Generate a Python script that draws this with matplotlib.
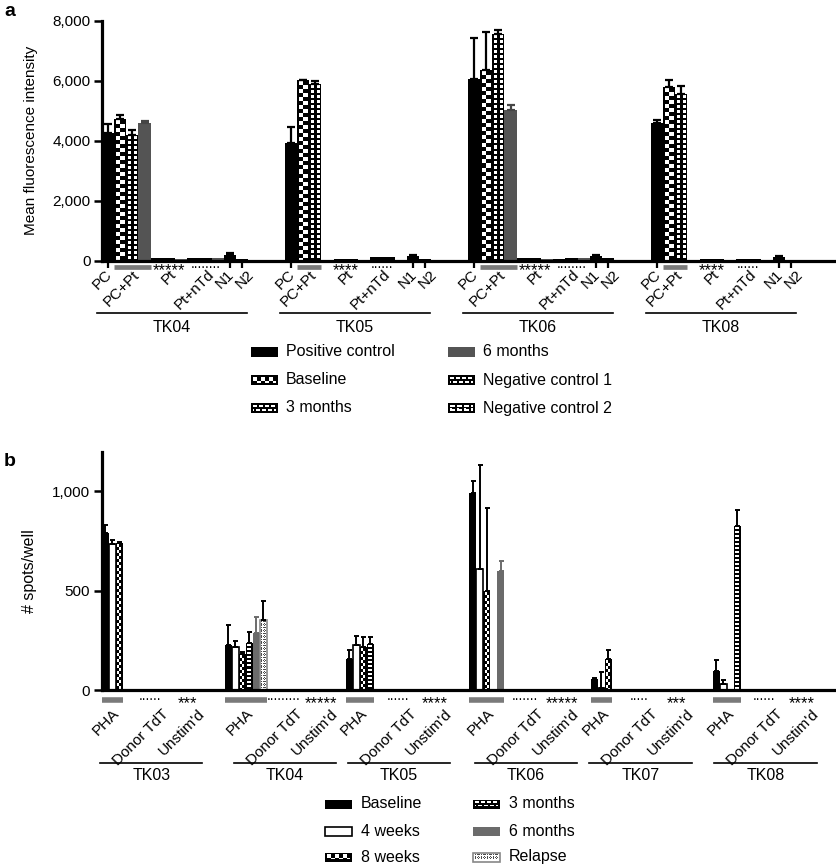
import numpy as np
import matplotlib
matplotlib.use("Agg")
import matplotlib.pyplot as plt
from matplotlib.transforms import blended_transform_factory
from matplotlib.patches import Rectangle

plt.rcParams['font.family'] = ['Liberation Sans', 'DejaVu Sans']
nan = np.nan

# ---------------- Panel a data ----------------
a_groups = ['TK04', 'TK05', 'TK06', 'TK08']
a_categories = ['PC', 'PC+Pt', 'Pt', 'Pt+nTd', 'N1', 'N2']
a_pc = [4256, 3921, 6071, 4601]
a_pc_err = [311, 535, 1359, 100]
a_pcpt_baseline = [4723, 6016, 6350, 5793]
a_pcpt_baseline_err = [123, 22, 1259, 223]
a_pcpt_3mo = [4200, 5904, 7542, 5570]
a_pcpt_3mo_err = [145, 89, 145, 245]
a_pcpt_6mo = [4590, nan, 5013, nan]
a_pcpt_6mo_err = [67, nan, 189, nan]
a_pt_baseline = [70, 60, 70, 40]
a_pt_3mo = [70, 60, 80, 40]
a_pt_6mo = [40, nan, 40, nan]
a_ptntd_baseline = [80, 110, 60, 50]
a_ptntd_3mo = [90, 110, 80, 50]
a_ptntd_6mo = [70, nan, 100, nan]
a_n1 = [180, 150, 140, 130]
a_n1_err = [70, 20, 30, 20]
a_n2 = [50, 60, 70, 20]
a_stars = ['*****', '****', '*****', '****']
a_dots = ['........', '......', '........', '......']
a_yticks = [0, 2000, 4000, 6000, 8000]
a_yticklabels = ['0', '2,000', '4,000', '6,000', '8,000']
a_legend = ['Positive control', 'Baseline', '3 months',
            '6 months', 'Negative control 1', 'Negative control 2']

# ---------------- Panel b data ----------------
b_groups = ['TK03', 'TK04', 'TK05', 'TK06', 'TK07', 'TK08']
b_categories = ['PHA', 'Donor TdT', "Unstim'd"]
b_series = ['Baseline', '4 weeks', '8 weeks', '3 months', '6 months', 'Relapse']
b_baseline = [790, 227, 155, 992, 54, 97]
b_baseline_err = [40, 101, 47, 62, 5, 54]
b_4wk = [735, 215, 227, 608, 12, 29]
b_4wk_err = [18, 32, 47, 526, 80, 21]
b_8wk = [740, 182, 218, 499, 155, nan]
b_8wk_err = [5, 11, 51, 417, 47, nan]
b_3mo = [nan, 235, 232, nan, nan, 827]
b_3mo_err = [nan, 56, 37, nan, nan, 81]
b_6mo = [nan, 286, nan, 597, nan, nan]
b_6mo_err = [nan, 84, nan, 53, nan, nan]
b_relapse = [nan, 350, nan, nan, nan, nan]
b_relapse_err = [nan, 100, nan, nan, nan, nan]
b_dots = ['......', '.........', '......', '.......', '.....', '......']
b_stars = ['***', '*****', '****', '*****', '***', '****']
b_yticks = [0, 500, 1000]
b_yticklabels = ['0', '500', '1,000']

# ---------------- layout ----------------
W, H = 837, 866
fig = plt.figure(figsize=(W / 100, H / 100), dpi=100)


def rect(l, t, r, b):
    return [l / W, 1 - b / H, (r - l) / W, (b - t) / H]


ax_a = fig.add_axes(rect(102.5, 20.7, 835, 260.5))
ax_b = fig.add_axes(rect(101.7, 451.7, 835, 690))
ov = fig.add_axes([0, 0, 1, 1], zorder=5)
ov.set_xlim(0, W)
ov.set_ylim(H, 0)
ov.axis('off')

A_XLIM = (-0.45, 59.6)
B_XLIM = (0, 104.76)
ax_a.set_xlim(*A_XLIM)
ax_a.set_ylim(0, 8000)
ax_b.set_xlim(*B_XLIM)
ax_b.set_ylim(0, 1200)

for ax in (ax_a, ax_b):
    for s in ('top', 'right'):
        ax.spines[s].set_visible(False)
    for s in ('left', 'bottom'):
        ax.spines[s].set_linewidth(2.3)
        ax.spines[s].set_zorder(4)
    ax.tick_params(axis='y', length=5.5, width=1.8, labelsize=11, pad=3)


def make_pattern(kind, nx, ny):
    i, j = np.mgrid[0:ny, 0:nx]
    if kind == 'checker':
        white = ((i // 4 + j // 4) % 2 == 0)
    elif kind == 'ladder':
        c = (nx - 1) / 2
        white = (i % 5 < 3) & (np.abs(j - c) > 0.6)
    elif kind == 'checker_s':
        white = ((i // 3 + j // 2) % 2 == 0)
    elif kind == 'dash_s':
        white = (i % 4 < 2)
    elif kind == 'brick':
        white = (i % 4 < 2) & (((j + 3 * ((i // 4) % 2)) % 6) < 4)
    elif kind == 'brick2':
        white = ((i % 4 < 2) & ((j % 7) < 5)) | ((i % 4 == 3) & ((j % 7) < 2))
    elif kind == 'relapse':
        img = np.ones((ny, nx))
        grid = ((i % 3 == 0) & (j % 2 == 0)) | ((j % 3 == 0) & (i % 2 == 0))
        img[grid] = 0.3
        return img
    else:
        white = np.zeros((ny, nx), bool)
    return np.where(white, 1.0, 0.0)


def fill_pattern(ax, x0, x1, y0, y1, kind, ins=(2, 2, 2, 0)):
    p0 = ax.transData.transform((x0, y0))
    p1 = ax.transData.transform((x1, y1))
    left, right = p0[0] + ins[0], p1[0] - ins[1]
    bottom, top = p0[1] + ins[3], p1[1] - ins[2]
    nx, ny = int(round(right - left)), int(round(top - bottom))
    if nx < 2 or ny < 3:
        return
    img = make_pattern(kind, nx, ny)
    inv = ax.transData.inverted()
    d0 = inv.transform((left, bottom))
    d1 = inv.transform((right, top))
    ax.imshow(img, cmap='gray', vmin=0, vmax=1, extent=(d0[0], d1[0], d0[1], d1[1]),
              origin='upper', interpolation='nearest', aspect='auto', zorder=2.2)


def legend_patch(x, yc, kind, fc, ec=None, w=27, h=10, ins=2):
    t, b = yc - h / 2, yc + h / 2
    ov.add_patch(Rectangle((x, t), w, h, facecolor=fc,
                           edgecolor=ec if ec else fc, linewidth=1.2 if ec else 0))
    if kind:
        nx, ny = int(w - 2 * ins), int(h - 2 * ins)
        ov.imshow(make_pattern(kind, nx, ny), cmap='gray', vmin=0, vmax=1,
                  extent=(x + ins, x + w - ins, b - ins, t + ins), origin='upper',
                  interpolation='nearest', aspect='auto', zorder=3)


def style_labels(ax):
    for lab in ax.get_xticklabels():
        lab.set_rotation(45)
        lab.set_ha('right')
        lab.set_va('center')
        lab.set_rotation_mode('anchor')


# ================= Panel a =================
A_STEP = 15
A_LABEL_OFF = [0.18, 0.42, 0.45, 0.49, 0.15, 0.75]
a_style = {
    'Positive control': dict(fc='black', pat=None, pat_leg=None),
    'Baseline': dict(fc='black', pat='checker', pat_leg='checker'),
    '3 months': dict(fc='black', pat='ladder', pat_leg='brick'),
    '6 months': dict(fc='#545454', pat=None, pat_leg=None),
    'Negative control 1': dict(fc='black', pat='ladder', pat_leg='brick'),
    'Negative control 2': dict(fc='black', pat=None, pat_leg='brick2'),
}
a_regions = [
    ('PC', [('Positive control', a_pc, a_pc_err)]),
    ('PC+Pt', [('Baseline', a_pcpt_baseline, a_pcpt_baseline_err),
               ('3 months', a_pcpt_3mo, a_pcpt_3mo_err),
               ('6 months', a_pcpt_6mo, a_pcpt_6mo_err)]),
    ('Pt', [('Baseline', a_pt_baseline, None), ('3 months', a_pt_3mo, None),
            ('6 months', a_pt_6mo, None)]),
    ('Pt+nTd', [('Baseline', a_ptntd_baseline, None), ('3 months', a_ptntd_3mo, None),
                ('6 months', a_ptntd_6mo, None)]),
    ('N1', [('Negative control 1', a_n1, a_n1_err)]),
    ('N2', [('Negative control 2', a_n2, None)]),
]

trans_a = blended_transform_factory(ax_a.transData, ov.transData)
a_major, a_major_lab, a_minor = [], [], []
for g, grp in enumerate(a_groups):
    base = g * A_STEP
    slot = 0
    for r, (reg, series) in enumerate(a_regions):
        present = []
        for name, vals, errs in series:
            x = base + slot
            v = vals[g]
            slot += 1
            if np.isnan(v):
                continue
            present.append(x)
            st = a_style[name]
            ax_a.bar(x, v, width=1.0, color=st['fc'], linewidth=0, zorder=2)
            if st['pat'] and v > 400:
                fill_pattern(ax_a, x - 0.5, x + 0.5, 0, v, st['pat'])
            if errs is not None and not np.isnan(errs[g]):
                ax_a.errorbar(x, v, yerr=[[0], [errs[g]]], fmt='none',
                              ecolor='#454545' if name == '6 months' else 'black',
                              elinewidth=1.6, capsize=2.6, capthick=1.6, zorder=3)
        cx = float(np.mean(present))
        a_major.append(cx + A_LABEL_OFF[r])
        a_major_lab.append(a_categories[r])
        if reg in ('PC', 'N1', 'N2'):
            a_minor.append(cx)
        elif reg == 'PC+Pt':
            ov.plot([min(present) - 0.5, max(present) + 0.5], [266.5, 266.5],
                    transform=trans_a, color='#7a7a7a', lw=3.4, solid_capstyle='butt')
        elif reg == 'Pt':
            ov.text(cx, 275.5, a_stars[g], transform=trans_a, ha='center',
                    va='baseline', fontsize=12)
        elif reg == 'Pt+nTd':
            ov.text(cx, 267.5, a_dots[g], transform=trans_a, ha='center',
                    va='baseline', fontsize=10)
    ov.plot([base - 0.9, base + 11.4], [313, 313], transform=trans_a,
            color='black', lw=1.2)
    ov.text(base + 5.25, 327, grp, transform=trans_a, ha='center', va='center',
            fontsize=11.5)

ax_a.set_xticks(a_major)
ax_a.set_xticklabels(a_major_lab)
ax_a.set_xticks(a_minor, minor=True)
ax_a.tick_params(axis='x', which='major', length=0, pad=8.6, labelsize=11)
ax_a.tick_params(axis='x', which='minor', length=5, width=1.6)
style_labels(ax_a)
ax_a.set_yticks(a_yticks)
ax_a.set_yticklabels(a_yticklabels)
ax_a.set_ylabel('Mean fluorescence intensity', fontsize=11)
ax_a.yaxis.set_label_coords(-0.088, 0.5)

# legend a
leg_cols = [250.7, 448]
leg_rows = [352, 380, 408]
for k, name in enumerate(a_legend):
    x = leg_cols[k // 3]
    y = leg_rows[k % 3]
    st = a_style[name]
    legend_patch(x, y, st['pat_leg'], st['fc'])
    ov.text(x + 35, y, name, ha='left', va='center', fontsize=11.5)

# ================= Panel b =================
B_CENTER = [1.5, 20.61, 36.9, 55.04, 71.4, 89.26]
B_CAT_OFF = [0.75, 7.75, 12.85]
B_DOT_OFF, B_STAR_OFF = 5.4, 10.7
B_LINE_C, B_LINE_HALF = 5.57, 7.29
b_vals = [b_baseline, b_4wk, b_8wk, b_3mo, b_6mo, b_relapse]
b_errs = [b_baseline_err, b_4wk_err, b_8wk_err, b_3mo_err, b_6mo_err, b_relapse_err]
b_style = {
    'Baseline': dict(fc='black', ec=None, pat=None, pat_leg=None),
    '4 weeks': dict(fc='white', ec='black', pat=None, pat_leg=None),
    '8 weeks': dict(fc='black', ec=None, pat='checker_s', pat_leg='checker'),
    '3 months': dict(fc='black', ec=None, pat='dash_s', pat_leg='brick'),
    '6 months': dict(fc='#6b6b6b', ec=None, pat=None, pat_leg=None),
    'Relapse': dict(fc='white', ec='#888888', pat='relapse', pat_leg='relapse'),
}
trans_b = blended_transform_factory(ax_b.transData, ov.transData)
b_major, b_major_lab = [], []
for g, grp in enumerate(b_groups):
    c = B_CENTER[g]
    pres = [s for s in range(len(b_series)) if not np.isnan(b_vals[s][g])]
    first, last = min(pres), max(pres)
    n = last - first + 1
    for s in pres:
        name = b_series[s]
        st = b_style[name]
        x = c - n / 2 + 0.5 + (s - first)
        v = b_vals[s][g]
        if st['ec']:
            ax_b.bar(x, v, width=1.0, color=st['fc'], edgecolor=st['ec'],
                     linewidth=1.2, zorder=2)
        else:
            ax_b.bar(x, v, width=1.0, color=st['fc'], linewidth=0, zorder=2)
        if st['pat'] == 'relapse':
            fill_pattern(ax_b, x - 0.5, x + 0.5, 0, v, 'relapse', ins=(1, 1, 1, 0))
        elif st['pat'] and v > 60:
            fill_pattern(ax_b, x - 0.5, x + 0.5, 0, v, st['pat'], ins=(1.5, 1.5, 1.5, 0))
        e = b_errs[s][g]
        if not np.isnan(e):
            ax_b.errorbar(x, v, yerr=[[0], [e]], fmt='none',
                          ecolor='#6b6b6b' if name == '6 months' else 'black',
                          elinewidth=1.4, capsize=1.8, capthick=1.4, zorder=3)
    for k, cat in enumerate(b_categories):
        b_major.append(c + B_CAT_OFF[k])
        b_major_lab.append(cat)
    ov.plot([c - n / 2, c + n / 2], [699.5, 699.5], transform=trans_b,
            color='#7a7a7a', lw=4, solid_capstyle='butt')
    ov.text(c + B_DOT_OFF, 699.5, b_dots[g], transform=trans_b, ha='center',
            va='baseline', fontsize=10)
    ov.text(c + B_STAR_OFF, 708.5, b_stars[g], transform=trans_b, ha='center',
            va='baseline', fontsize=12)
    ov.plot([c + B_LINE_C - B_LINE_HALF, c + B_LINE_C + B_LINE_HALF], [763, 763],
            transform=trans_b, color='black', lw=1.2)
    ov.text(c + B_LINE_C, 775, grp, transform=trans_b, ha='center', va='center',
            fontsize=11.5)

ax_b.set_xticks(b_major)
ax_b.set_xticklabels(b_major_lab)
ax_b.tick_params(axis='x', which='major', length=0, pad=15.4, labelsize=11)
style_labels(ax_b)
ax_b.set_yticks(b_yticks)
ax_b.set_yticklabels(b_yticklabels)
ax_b.set_ylabel('# spots/well', fontsize=11.5)
ax_b.yaxis.set_label_coords(-0.088, 0.5)

# legend b
legb_cols = [325, 473]
legb_rows = [804, 831, 857]
for k, name in enumerate(b_series):
    x = legb_cols[k // 3]
    y = legb_rows[k % 3]
    st = b_style[name]
    legend_patch(x, y, st['pat_leg'], st['fc'], ec=st['ec'], h=9)
    ov.text(x + 36, y, name, ha='left', va='center', fontsize=11.5)

# panel letters
ov.text(4, 3, 'a', ha='left', va='top', fontsize=14, fontweight='bold')
ov.text(4, 453, 'b', ha='left', va='top', fontsize=14, fontweight='bold')

ax_a.set_xlim(*A_XLIM)
ax_a.set_ylim(0, 8000)
ax_b.set_xlim(*B_XLIM)
ax_b.set_ylim(0, 1200)
ov.set_xlim(0, W)
ov.set_ylim(H, 0)

fig.savefig('out.png', dpi=100)
